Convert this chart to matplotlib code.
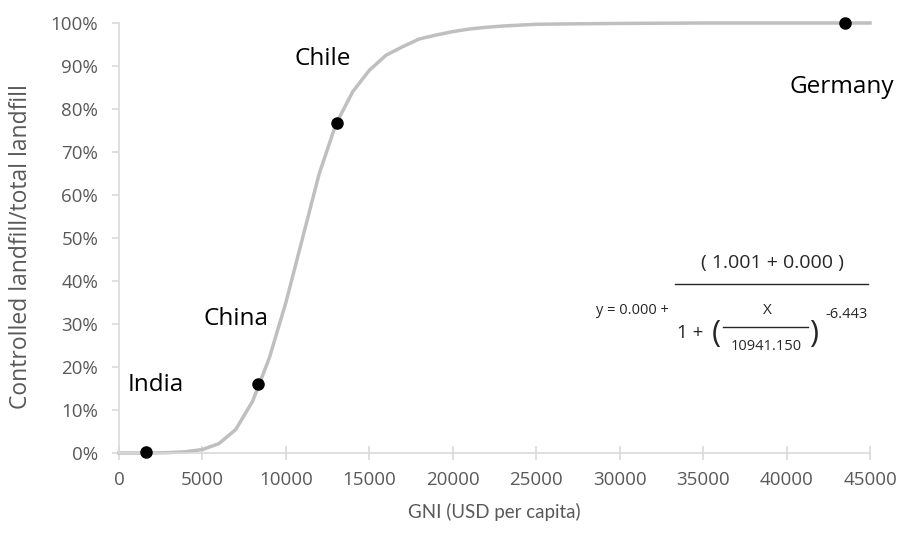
import matplotlib
matplotlib.use("Agg")
import matplotlib.pyplot as plt
from matplotlib.ticker import FuncFormatter
from matplotlib.lines import Line2D

# Fitted curve
curve_x = [0, 1000, 2000, 3000, 4000, 5000, 6000, 7000, 8000, 9000, 10000, 11000,
           12000, 13000, 14000, 15000, 16000, 17000, 18000, 19000, 20000, 21000,
           22000, 23000, 24000, 25000, 27000, 30000, 35000, 40000, 45000]
curve_y = [0.000, 0.000, 0.000, 0.001, 0.003, 0.008, 0.022, 0.055, 0.12, 0.22, 0.35, 0.50,
           0.65, 0.765, 0.84, 0.89, 0.925, 0.945, 0.963, 0.972, 0.980, 0.986,
           0.990, 0.993, 0.995, 0.997, 0.998, 0.999, 1.0, 1.0, 1.0]

countries = ["India", "China", "Chile", "Germany"]
gni = [1600, 8300, 13050, 43500]
share = [0.003, 0.16, 0.767, 1.0]

W, H = 903, 536
fig = plt.figure(figsize=(W / 100, H / 100), dpi=100)
ax = fig.add_axes([119 / W, 1 - 453 / H, (870 - 119) / W, (453 - 23) / H])

ax.plot(curve_x, curve_y, color="#bfbfbf", lw=2.5, zorder=2, clip_on=False)
ax.plot(gni, share, "o", color="black", ms=8, zorder=3, clip_on=False)

ax.set_xlim(0, 45000)
ax.set_ylim(0, 1.0)
ax.set_xticks(range(0, 45001, 5000))
ax.set_yticks([i / 10 for i in range(11)])
ax.yaxis.set_major_formatter(FuncFormatter(lambda v, p: f"{v*100:.0f}%"))

for s in ["top", "right"]:
    ax.spines[s].set_visible(False)
for s in ["left", "bottom"]:
    ax.spines[s].set_color("#d9d9d9")
    ax.spines[s].set_linewidth(1.2)
ax.tick_params(axis="both", colors="#d9d9d9", labelcolor="#595959", labelsize=13.5,
               width=1.2)
ax.tick_params(axis="x", direction="inout", length=10, pad=8)
ax.tick_params(axis="y", direction="out", length=5, pad=10)
for lab in ax.get_xticklabels() + ax.get_yticklabels():
    lab.set_fontfamily("Open Sans")

ax.set_xlabel("GNI (USD per capita)", fontsize=13.5, color="#595959", family="Lato", labelpad=10)
ax.set_ylabel("Controlled landfill/total landfill", fontsize=16.5, color="#595959",
              family="Open Sans", labelpad=6)
ax.yaxis.set_label_coords(-0.114, 0.48)

# Country labels
label_pos = {"India": (128, 385), "China": (204, 319), "Chile": (295, 59), "Germany": (790, 87)}
for c in countries:
    px, py = label_pos[c]
    fig.text(px / W, 1 - py / H, c, fontsize=17.5, family="Open Sans", color="black",
             ha="left", va="center")

# Equation
def ft(x, y, s, size=10, **kw):
    fig.text(x / W, 1 - y / H, s, fontsize=size, family="Open Sans", color="#262626",
             va="center", **kw)

ft(772, 263, "( 1.001 + 0.000 )", 14, ha="center")
fig.add_artist(Line2D([675 / W, 868 / W], [1 - 284 / H, 1 - 284 / H], color="#262626", lw=1))
ft(596, 310, "y = 0.000 +", 10.5, ha="left")
ft(677, 333, "1 +", 13.5, ha="left")
ft(716, 334, "(", 22, ha="center")
ft(814, 334, ")", 22, ha="center")
ft(767, 311, "X", 11, ha="center")
fig.add_artist(Line2D([723 / W, 808 / W], [1 - 327 / H, 1 - 327 / H], color="#262626", lw=1))
ft(766, 347, "10941.150", 10.5, ha="center")
ft(847, 314, "-6.443", 10.5, ha="center")

fig.savefig("out.png", dpi=100, facecolor="white")
